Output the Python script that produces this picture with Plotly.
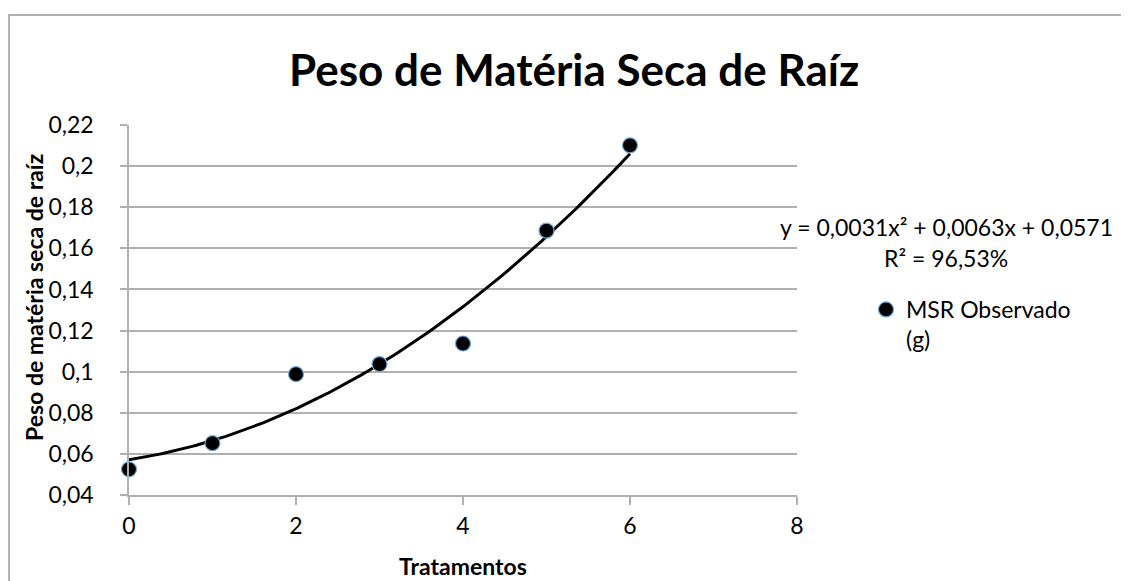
import numpy as np
import plotly.graph_objects as go

# observed data
tratamentos = [0, 1, 2, 3, 4, 5, 6]
msr_observado = [0.0525, 0.0652, 0.0988, 0.1037, 0.1137, 0.1686, 0.2101]

y_ticks = [0.04, 0.06, 0.08, 0.10, 0.12, 0.14, 0.16, 0.18, 0.20, 0.22]
y_tick_text = ["0,04", "0,06", "0,08", "0,1", "0,12", "0,14", "0,16", "0,18", "0,2", "0,22"]
x_ticks = [0, 2, 4, 6, 8]

eq_text = "y = 0,0031x² + 0,0063x + 0,0571"
r2_text = "R² = 96,53%"

FONT = "Lato"
GRID = "#b0b0b0"

# plot area in figure pixels (page adds an 8px body margin)
L, R, T, B = 121, 789, 117, 487
W, H = R - L, B - T


def px(x):
    return (x - L) / W


def py(y):
    return (B - y) / H


# quadratic trendline fitted to the observed points
coef = np.polyfit(tratamentos, msr_observado, 2)
x_fit = np.linspace(min(tratamentos), max(tratamentos), 120)
y_fit = np.polyval(coef, x_fit)

fig = go.Figure()

fig.add_trace(go.Scatter(
    x=x_fit, y=y_fit, mode="lines",
    line=dict(color="black", width=3),
    showlegend=False, hoverinfo="skip",
))

fig.add_trace(go.Scatter(
    x=tratamentos, y=msr_observado, mode="markers",
    name="MSR Observado<br>(g)",
    marker=dict(size=15, color="black", line=dict(color="#6fa8dc", width=1.2)),
    cliponaxis=False,
))

fig.update_xaxes(
    range=[0, 8], tickvals=x_ticks,
    showgrid=False, zeroline=False,
    showline=True, linecolor=GRID, linewidth=1.5,
    ticks="outside", ticklen=8, tickcolor=GRID, tickwidth=1.5,
    ticklabelstandoff=2,
    tickfont=dict(family=FONT, size=23, color="black"),
)
fig.update_yaxes(
    range=[0.04, 0.22], tickvals=y_ticks, ticktext=y_tick_text,
    showgrid=True, gridcolor=GRID, gridwidth=1.5, zeroline=False,
    showline=True, linecolor=GRID, linewidth=1.5,
    ticks="outside", ticklen=7, tickcolor=GRID, tickwidth=1.5,
    ticklabelstandoff=22,
    tickfont=dict(family=FONT, size=23, color="black"),
)


def note(text, x, y, size, angle=0):
    fig.add_annotation(text=text, xref="paper", yref="paper", x=px(x), y=py(y),
                       xanchor="center", yanchor="middle", textangle=angle,
                       showarrow=False, font=dict(family=FONT, size=size, color="black"))


note("<b>Peso de Matéria Seca de Raíz</b>", 566, 61, 44)
note("<b>Peso de matéria seca de raíz</b>", 26, 289, 23, angle=-90)
note("<b>Tratamentos</b>", 455, 558, 23)
note(eq_text, 938, 219, 23)
note(r2_text, 938, 250, 23)

# outer chart border
fig.add_shape(type="rect", xref="paper", yref="paper",
              x0=px(1), x1=2, y0=-1, y1=py(7),
              line=dict(color="#999999", width=1.5), layer="below")

fig.update_layout(
    width=1129, height=581,
    margin=dict(l=L, r=1129 - R, t=T, b=581 - B),
    paper_bgcolor="white", plot_bgcolor="white",
    font=dict(family=FONT, color="black"),
    legend=dict(x=px(858), y=py(280), xanchor="left", yanchor="top",
                valign="top", font=dict(family=FONT, size=23, color="black"),
                bgcolor="rgba(0,0,0,0)"),
)

fig.write_html("out.html")
